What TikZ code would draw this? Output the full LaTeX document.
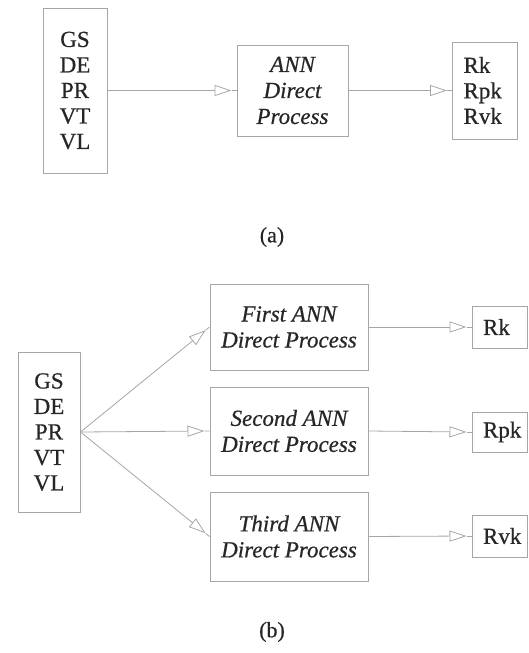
\documentclass[tikz,border=0pt]{standalone}
\usepackage{fontspec}
\setmainfont{Liberation Serif}[FakeBold=0.6]
\usetikzlibrary{arrows.meta,calc}
\definecolor{boxgray}{gray}{0.65}
\definecolor{txtgray}{gray}{0.15}
\begin{document}
\begin{tikzpicture}[x=1pt,y=-1pt,
  every node/.style={text=txtgray},
  box/.style={draw=boxgray,line width=1pt,inner sep=0pt,align=center,
    font=\fontsize{23}{25.5}\selectfont},
  ibox/.style={box,font=\fontsize{23}{26}\selectfont\itshape},
  obox/.style={box,text width=33pt,align=left,inner xsep=11pt,minimum width=55pt},
  conn/.style={draw=boxgray,line width=0.8pt,-{Triangle[open,length=17pt,width=11pt,line width=0.8pt]}},
  stub/.style={draw=boxgray,line width=0.8pt},
  captxt/.style={font=\fontsize{22}{25}\selectfont}]
\useasboundingbox (0,0) rectangle (528,653);
% (a)
\node[box,minimum width=64pt,minimum height=165pt] (ina) at (75,90.5) {GS\\DE\\PR\\VT\\VL};
\node[ibox,minimum width=111pt,minimum height=91pt] (ann) at (292.5,90.5) {ANN\\Direct\\Process};
\node[box,minimum width=65pt,minimum height=97pt,text width=43pt,align=left,inner xsep=11pt] (outa) at (485,90.5) {Rk\\Rpk\\Rvk};
\node[captxt] (capa) at (272,237) {(a)};
\coordinate (ta1) at ($(ann.west)+(-5,0)$);
\coordinate (ta2) at ($(outa.west)+(-5,0)$);
\draw[conn] (ina.east) -- (ta1);
\draw[stub] (ta1) -- (ann.west);
\draw[conn] (ann.east) -- (ta2);
\draw[stub] (ta2) -- (outa.west);
% (b)
\node[box,minimum width=62pt,minimum height=160pt] (inb) at (49,432) {GS\\DE\\PR\\VT\\VL};
\node[ibox,minimum width=158pt,minimum height=86pt] (first) at (289,327) {First ANN\\Direct Process};
\node[ibox,minimum width=158pt,minimum height=88pt] (second) at (289,431) {Second ANN\\Direct Process};
\node[ibox,minimum width=158pt,minimum height=89pt] (third) at (289,536.5) {Third ANN\\Direct Process};
\node[obox,minimum height=42pt] (rk) at (499.5,327) {Rk};
\node[obox,minimum height=40pt] (rpk) at (499.5,432) {Rpk};
\node[obox,minimum height=42pt] (rvk) at (499.5,536) {Rvk};
\node[captxt] (capb) at (272,632) {(b)};
\coordinate (tb1) at ($(first.west)!5pt!(inb.east)$);
\coordinate (tb2) at ($(second.west)!5pt!(inb.east)$);
\coordinate (tb3) at ($(third.west)!5pt!(inb.east)$);
\draw[conn] (inb.east) -- (tb1);
\draw[stub] (tb1) -- (first.west);
\draw[conn] (inb.east) -- (tb2);
\draw[stub] (tb2) -- (second.west);
\draw[conn] (inb.east) -- (tb3);
\draw[stub] (tb3) -- (third.west);
\coordinate (tc1) at ($(rk.west)+(-5,0)$);
\coordinate (tc2) at ($(rpk.west)+(-5,0)$);
\coordinate (tc3) at ($(rvk.west)+(-5,0)$);
\draw[conn] (first.east) -- (tc1);
\draw[stub] (tc1) -- (rk.west);
\draw[conn] (second.east) -- (tc2);
\draw[stub] (tc2) -- (rpk.west);
\draw[conn] (third.east) -- (tc3);
\draw[stub] (tc3) -- (rvk.west);
\end{tikzpicture}
\end{document}
